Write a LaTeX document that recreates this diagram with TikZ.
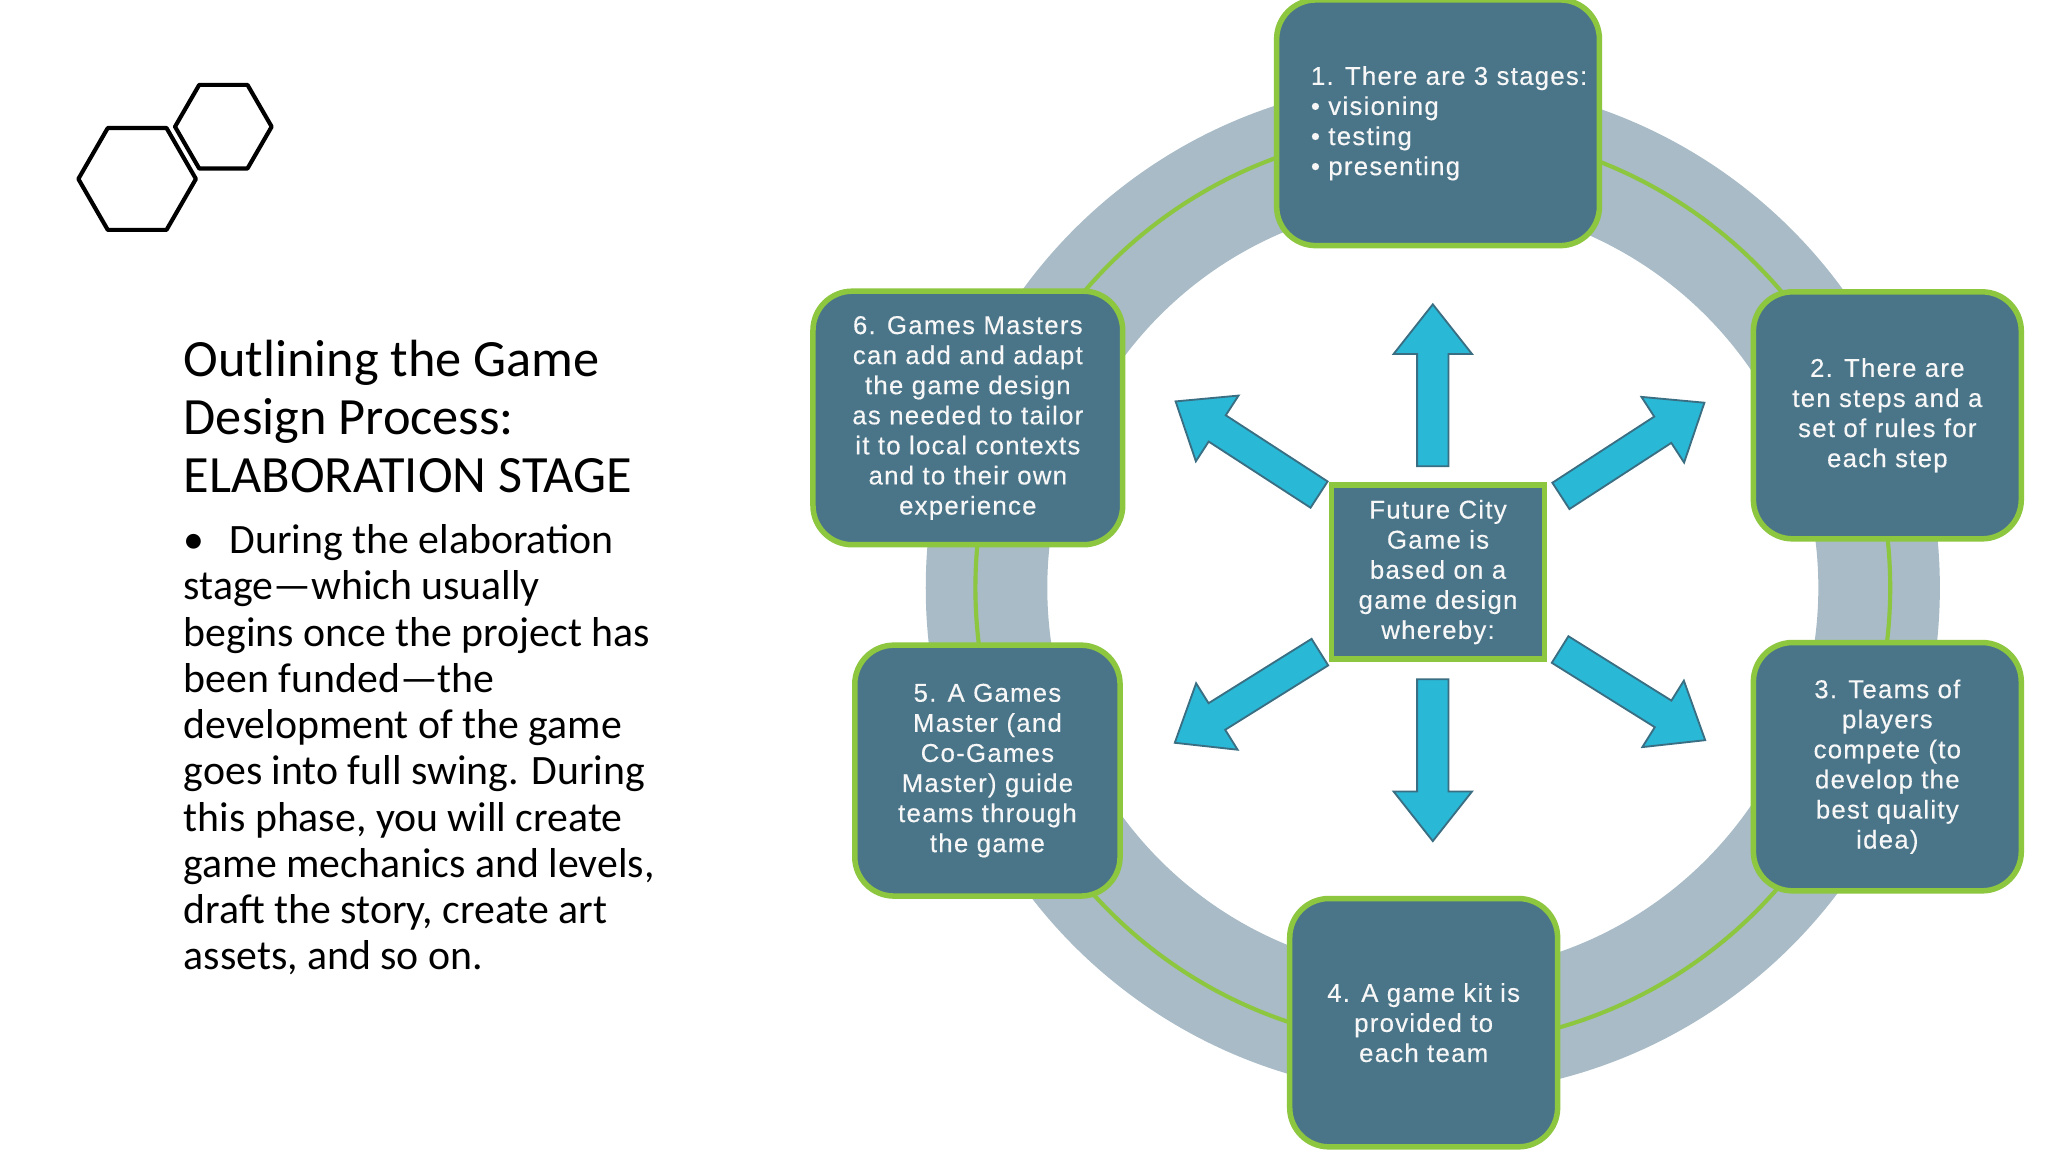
\documentclass[tikz,border=0pt]{standalone}
\usepackage{fontspec}
\setmainfont{Carlito}
\newfontfamily\boxfont[LetterSpace=5,FakeBold=0.4]{Liberation Sans}
\definecolor{ringc}{HTML}{A8BBC7}
\definecolor{greenc}{HTML}{8DC63F}
\definecolor{boxc}{HTML}{4A7589}
\definecolor{arrc}{HTML}{29B8D6}
\definecolor{arrline}{HTML}{3A6E82}
\tikzset{
  stepbox/.style={draw=greenc, line width=1.2pt, fill=boxc, rounded corners=0.3cm, text=white!94!gray, font=\boxfont\fontsize{5.6}{6.55}\selectfont, align=center, inner sep=0pt},
  bigarrow/.style={draw=arrline, line width=0.4pt, fill=arrc, line join=miter},
  hexa/.style={line width=0.9pt, line join=round}
}
\newcommand\myarrow[4]{% x, y, angle, length
  \begin{scope}[shift={(#1,#2)}, rotate=#3]
  \draw[bigarrow] (-#4/2,-12) -- (#4/2-38,-12) -- (#4/2-38,-30) -- (#4/2,0) -- (#4/2-38,30) -- (#4/2-38,12) -- (-#4/2,12) -- cycle;
  \end{scope}}
\begin{document}
\begin{tikzpicture}[x=0.01cm,y=-0.01cm]
\fill[white] (0,0) rectangle (1568,882);
\useasboundingbox (0,0) rectangle (1568,882);
% hexagons
\draw[hexa] (60,137) -- ++(22.5,-39) -- ++(45,0) -- ++(22.5,39) -- ++(-22.5,39) -- ++(-45,0) -- cycle;
\draw[hexa] (134,97) -- ++(18.5,-32) -- ++(37,0) -- ++(18.5,32) -- ++(-18.5,32) -- ++(-37,0) -- cycle;
% title
\node[anchor=north west, align=left, inner sep=0pt, font=\fontsize{11.4}{12.6}\selectfont] (title) at (140,260)
 {Outlining the Game\\Design Process:\\ELABORATION STAGE};
\node[anchor=north west, align=left, inner sep=0pt, font=\fontsize{9.1}{10.07}\selectfont] (body) at (140,401)
 {•\hspace{0.6em}During the elaboration\\stage—which usually\\begins once the project has\\been funded—the\\development of the game\\goes into full swing. During\\this phase, you will create\\game mechanics and levels,\\draft the story, create art\\assets, and so on.};
% ring
\fill[ringc, even odd rule] (1097,450) circle (3.88cm) (1097,450) circle (2.95cm);
\draw[greenc, line width=0.9pt] (1097,450) circle (3.5cm);
% arrows
\myarrow{1097}{295}{90}{124}
\myarrow{1097}{582}{-90}{124}
\myarrow{1250}{344}{33}{131}
\myarrow{955}{343}{147}{131}
\myarrow{955}{534}{-148}{131}
\myarrow{1250}{532}{-32}{131}
% boxes
\node[stepbox, rounded corners=0pt, minimum width=1.63cm, minimum height=1.33cm] (c) at (1101,438)
 {Future City\\Game is\\based on a\\game design\\whereby:};
\node[stepbox, minimum width=2.47cm, minimum height=1.88cm] (b1) at (1101,94) {};
\node[anchor=north west, align=left, inner sep=0pt, text=white!94!gray, font=\boxfont\fontsize{5.6}{6.55}\selectfont] (t1) at (1003,50)
 {1. There are 3 stages:\\• visioning\\• testing\\• presenting};
\node[stepbox, minimum width=2.05cm, minimum height=1.89cm] (b2) at (1445,318) {2. There are\\ten steps and a\\set of rules for\\each step};
\node[stepbox, minimum width=2.05cm, minimum height=1.90cm] (b3) at (1445,587) {3. Teams of\\players\\compete (to\\develop the\\best quality\\idea)};
\node[stepbox, minimum width=2.05cm, minimum height=1.90cm] (b4) at (1090,783) {4. A game kit is\\provided to\\each team};
\node[stepbox, minimum width=2.03cm, minimum height=1.92cm] (b5) at (756,590) {5. A Games\\Master (and\\Co-Games\\Master) guide\\teams through\\the game};
\node[stepbox, minimum width=2.37cm, minimum height=1.94cm] (b6) at (741,320) {6. Games Masters\\can add and adapt\\the game design\\as needed to tailor\\it to local contexts\\and to their own\\experience};
\end{tikzpicture}
\end{document}
